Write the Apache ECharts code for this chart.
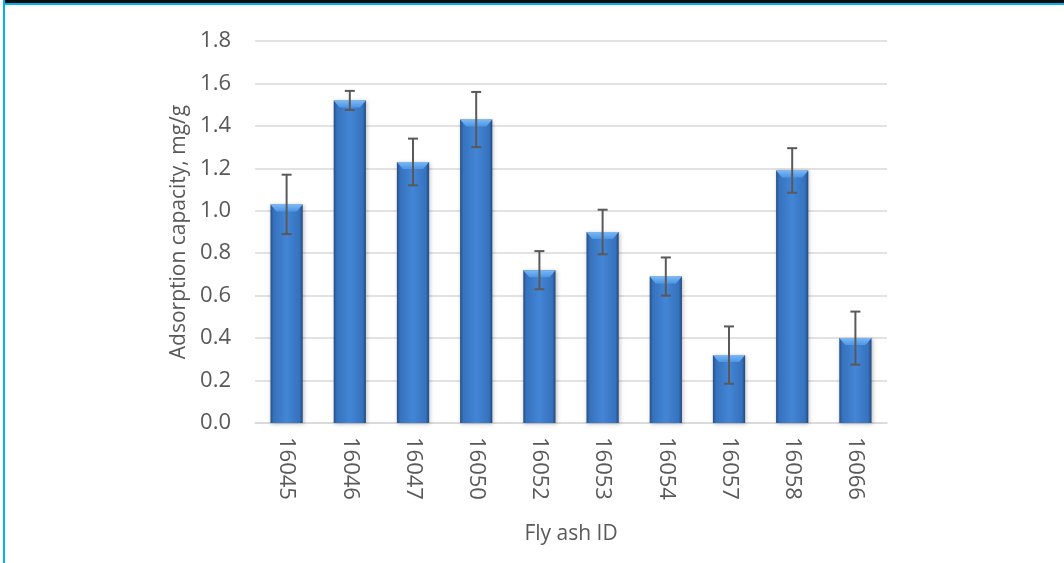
<!DOCTYPE html>
<html>
<head>
<meta charset="utf-8">
<script src="https://cdn.jsdelivr.net/npm/echarts@6/dist/echarts.min.js"></script>
<style>html,body{margin:0;padding:0;background:#fff}#c{width:1064px;height:563px}</style>
</head>
<body>
<div id="c"></div>
<script>
var categories = ['16045','16046','16047','16050','16052','16053','16054','16057','16058','16066'];
var capacity = [1.03, 1.52, 1.23, 1.43, 0.72, 0.90, 0.69, 0.32, 1.19, 0.40];
var errors = [0.14, 0.045, 0.11, 0.13, 0.09, 0.105, 0.09, 0.135, 0.105, 0.125];
var yTicks = [0, 0.2, 0.4, 0.6, 0.8, 1.0, 1.2, 1.4, 1.6, 1.8];

var FONT = '"Open Sans", sans-serif';
var TXT = '#595959';
var BARW = 0.51;

var errData = categories.map(function (c, i) { return [i, capacity[i], errors[i]]; });
var bevelData = categories.map(function (c, i) { return [i, capacity[i]]; });

var chart = echarts.init(document.getElementById('c'), null, { renderer: 'canvas' });
chart.setOption({
  animation: false,
  backgroundColor: '#fff',
  graphic: [
    { type: 'rect', shape: { x: 5, y: 0, width: 1059, height: 3 }, style: { fill: '#0d0d0d' }, z: 100 },
    { type: 'rect', shape: { x: 3, y: 3, width: 1061, height: 2 }, style: { fill: '#00b0f0' }, z: 100 },
    { type: 'rect', shape: { x: 3, y: 0, width: 2, height: 563 }, style: { fill: '#00b0f0' }, z: 100 }
  ],
  grid: { left: 255, right: 177, top: 41, bottom: 140, containLabel: false },
  xAxis: {
    type: 'category',
    data: categories,
    name: 'Fly ash ID',
    nameLocation: 'middle',
    nameGap: 101,
    nameTextStyle: { fontFamily: FONT, fontSize: 21, color: TXT },
    axisLine: { show: true, lineStyle: { color: '#d9d9d9', width: 1.5 } },
    axisTick: { show: false },
    axisLabel: { rotate: -90, margin: 14, fontFamily: FONT, fontSize: 22, color: TXT }
  },
  yAxis: {
    type: 'value',
    min: 0, max: 1.8, interval: 0.2,
    name: 'Adsorption capacity, mg/g',
    nameLocation: 'middle',
    nameGap: 60,
    nameTextStyle: { fontFamily: FONT, fontSize: 21, color: TXT },
    axisLine: { show: false },
    axisTick: { show: false },
    axisLabel: {
      margin: 24, fontFamily: FONT, fontSize: 22, color: TXT,
      formatter: function (v) { return v.toFixed(1); }
    },
    splitLine: { lineStyle: { color: '#d9d9d9', width: 1.5 } }
  },
  series: [
    {
      type: 'bar',
      data: capacity,
      barWidth: (BARW * 100) + '%',
      itemStyle: {
        color: new echarts.graphic.LinearGradient(0, 0, 1, 0, [
          { offset: 0, color: '#264f86' },
          { offset: 0.1, color: '#3672bd' },
          { offset: 0.5, color: '#4385d6' },
          { offset: 0.9, color: '#3672bd' },
          { offset: 1, color: '#22487c' }
        ]),
        shadowBlur: 4, shadowColor: 'rgba(0,0,0,0.25)', shadowOffsetX: 1, shadowOffsetY: 1
      },
      z: 2
    },
    {
      type: 'custom',
      data: bevelData,
      z: 3,
      renderItem: function (params, api) {
        var idx = api.value(0), v = api.value(1);
        var p = api.coord([idx, v]);
        var w = api.size([1, 0])[0] * BARW;
        var l = p[0] - w / 2, r = p[0] + w / 2, t = p[1], h = 7, ins = 6;
        return {
          type: 'polygon',
          shape: { points: [[l, t], [r, t], [r - ins, t + h], [l + ins, t + h]] },
          style: {
            fill: new echarts.graphic.LinearGradient(0, 0, 0, 1, [
              { offset: 0, color: '#7ab8f7' },
              { offset: 1, color: '#4f95e3' }
            ])
          }
        };
      }
    },
    {
      type: 'custom',
      data: errData,
      z: 5,
      renderItem: function (params, api) {
        var idx = api.value(0), v = api.value(1), e = api.value(2);
        var top = api.coord([idx, v + e]);
        var bot = api.coord([idx, v - e]);
        var cap = 5;
        var st = { stroke: '#595959', lineWidth: 2 };
        return {
          type: 'group',
          children: [
            { type: 'line', shape: { x1: top[0], y1: top[1], x2: bot[0], y2: bot[1] }, style: st },
            { type: 'line', shape: { x1: top[0] - cap, y1: top[1], x2: top[0] + cap, y2: top[1] }, style: st },
            { type: 'line', shape: { x1: bot[0] - cap, y1: bot[1], x2: bot[0] + cap, y2: bot[1] }, style: st }
          ]
        };
      }
    }
  ]
});
</script>
</body>
</html>
